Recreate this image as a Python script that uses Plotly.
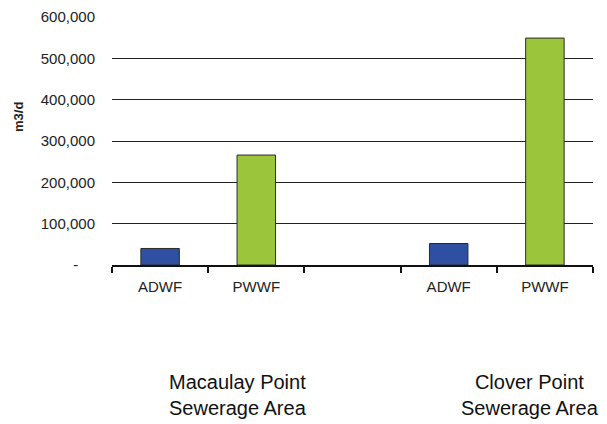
import plotly.graph_objects as go

categories = ["ADWF", "PWWF", " ", "ADWF ", "PWWF "]
tick_labels = ["ADWF", "PWWF", "", "ADWF", "PWWF"]
flows = [40000, 266000, None, 52000, 549000]
bar_colors = ["#2f4fa3", "#9bc63b", "#ffffff", "#2f4fa3", "#9bc63b"]
y_ticks = [0, 100000, 200000, 300000, 400000, 500000, 600000]
y_tick_text = ["-\u00a0\u00a0\u00a0\u00a0", "100,000", "200,000", "300,000", "400,000", "500,000", "600,000"]
groups = ["Macaulay Point<br>Sewerage Area", "Clover Point<br>Sewerage Area"]
group_x = [0.262, 0.869]

FONT = "Liberation Sans, Arial, sans-serif"

fig = go.Figure(go.Bar(
    x=categories, y=flows,
    marker=dict(color=bar_colors, line=dict(color="#2a2a2a", width=1)),
))

# page body has an 8px default margin, so the figure is shrunk/offset to compensate
fig.update_layout(
    width=599, height=416,
    margin=dict(l=104, r=14, t=9, b=159, autoexpand=False),
    paper_bgcolor="white", plot_bgcolor="white",
    bargap=0.6, showlegend=False,
    font=dict(family=FONT, color="#222222", size=15),
)
fig.update_xaxes(
    type="category", categoryorder="array", categoryarray=categories,
    tickvals=categories, ticktext=tick_labels, automargin=False,
    tickson="boundaries", ticks="outside", ticklen=6, tickcolor="#111111", tickwidth=1.5,
    showline=True, linecolor="#111111", linewidth=2,
    showgrid=False, ticklabelstandoff=7,
    tickfont=dict(size=15, color="#222222"),
)
fig.update_yaxes(
    range=[0, 600000], tickvals=y_ticks, ticktext=y_tick_text, automargin=False,
    showgrid=True, gridcolor="#222222", gridwidth=1,
    zeroline=False, showline=False, ticks="",
    ticklabelstandoff=16,
    tickfont=dict(size=15, color="#222222"),
)

fig.add_annotation(
    text="<b>m3/d</b>", textangle=-90, xref="paper", yref="paper",
    x=(19 - 112) / 481, y=0.597, showarrow=False,
    font=dict(size=13, color="#222222"), xanchor="center", yanchor="middle",
)
for txt, gx in zip(groups, group_x):
    fig.add_annotation(
        text=txt, xref="paper", yref="paper", x=gx, y=-0.524,
        showarrow=False, align="center", xanchor="center", yanchor="middle",
        font=dict(size=20, color="#111111"),
    )

fig.write_html("out.html")
